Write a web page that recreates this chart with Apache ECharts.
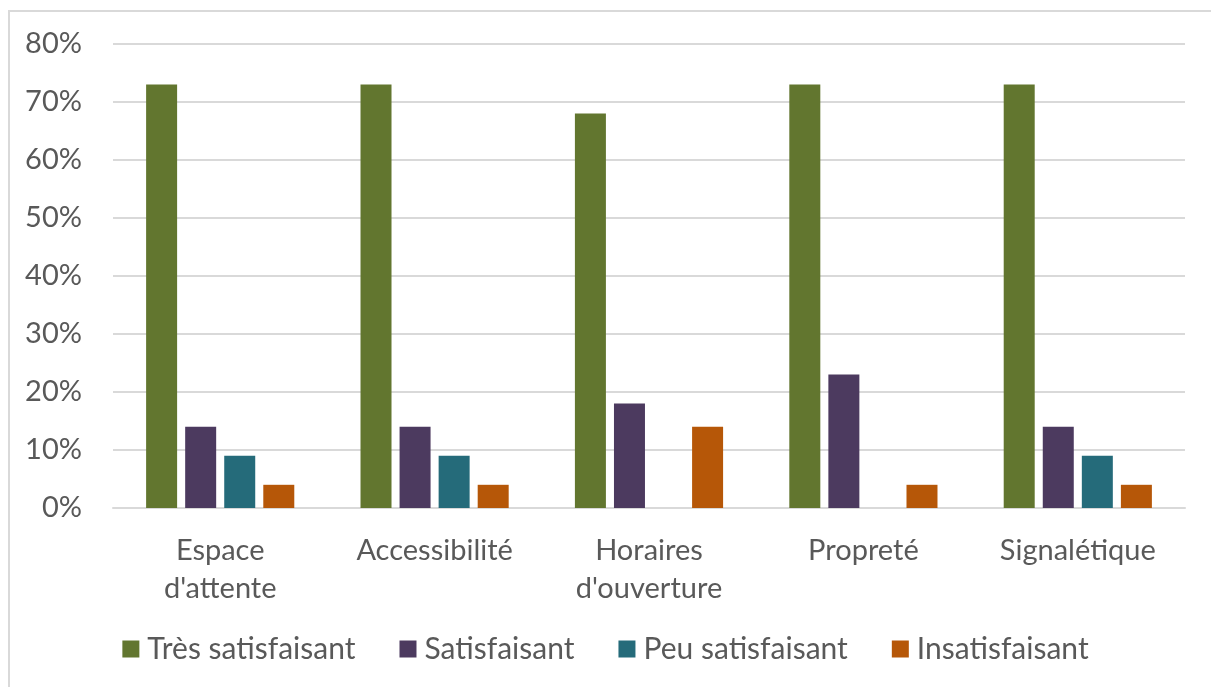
<!DOCTYPE html>
<html>
<head>
<meta charset="utf-8">
<script src="https://cdn.jsdelivr.net/npm/echarts@6/dist/echarts.min.js"></script>
<style>
  html, body { margin: 0; padding: 0; background: #fff; }
  #chart { width: 1211px; height: 687px; }
</style>
</head>
<body>
<div id="chart"></div>
<script>
// catégories et valeurs (en %)
var categories = ["Espace\nd'attente", 'Accessibilité', "Horaires\nd'ouverture", 'Propreté', 'Signalétique']
var seriesNames = ['Très satisfaisant', 'Satisfaisant', 'Peu satisfaisant', 'Insatisfaisant']
var tresSatisfait = [73, 73, 68, 73, 73]
var satisfait = [14, 14, 18, 23, 14]
var peuSatisfait = [9, 9, 0, 0, 9]
var insatisfait = [4, 4, 14, 4, 4]
var yTicks = [0, 10, 20, 30, 40, 50, 60, 70, 80]

var colors = ['#62762F', '#4C3A5F', '#256B7A', '#B65708']
var values = [tresSatisfait, satisfait, peuSatisfait, insatisfait]
var font = 'Lato, "Open Sans", sans-serif'

var myChart = echarts.init(document.getElementById('chart'))
myChart.setOption({
  animation: false,
  color: colors,
  textStyle: { fontFamily: font },
  graphic: [{
    type: 'polyline',
    shape: { points: [[9, 687], [9, 11], [1211, 11]] },
    style: { stroke: '#d9d9d9', lineWidth: 2, fill: null }
  }],
  grid: { left: 113, right: 26, top: 44, bottom: 179, containLabel: false },
  legend: {
    data: seriesNames,
    bottom: 18,
    left: 'center',
    itemWidth: 17,
    itemHeight: 17,
    itemGap: 44,
    icon: 'rect',
    textStyle: { color: '#595959', fontSize: 30, fontFamily: font, padding: [0, 0, 0, 3] }
  },
  xAxis: {
    type: 'category',
    data: categories,
    axisLine: { lineStyle: { color: '#d9d9d9', width: 2 } },
    axisTick: { show: false },
    axisLabel: { color: '#595959', fontSize: 29, lineHeight: 38, margin: 24, interval: 0, fontFamily: font }
  },
  yAxis: {
    type: 'value',
    min: yTicks[0],
    max: yTicks[yTicks.length - 1],
    interval: 10,
    axisLine: { show: false },
    axisTick: { show: false },
    splitLine: { lineStyle: { color: '#d9d9d9', width: 2 } },
    axisLabel: { color: '#595959', fontSize: 29, margin: 31, formatter: '{value}%', fontFamily: font }
  },
  series: seriesNames.map(function (name, i) {
    return {
      name: name,
      type: 'bar',
      data: values[i],
      barWidth: 31,
      barGap: '26%',
      itemStyle: { color: colors[i] }
    }
  })
})
</script>
</body>
</html>
